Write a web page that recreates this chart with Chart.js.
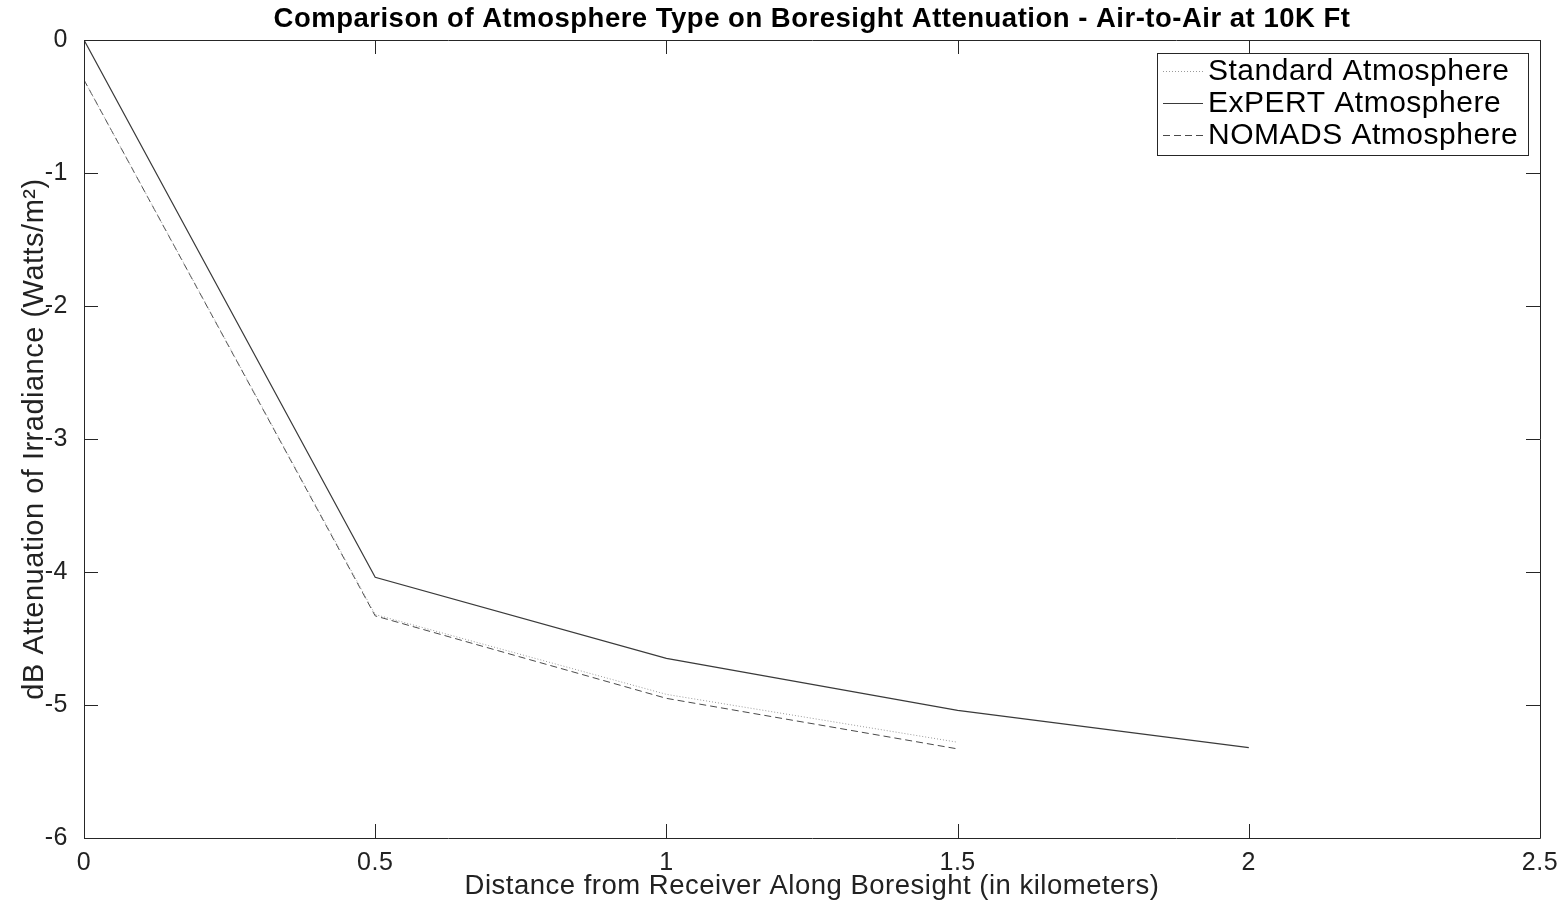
<!DOCTYPE html>
<html>
<head>
<meta charset="utf-8">
<script src="https://cdn.jsdelivr.net/npm/chart.js@4/dist/chart.umd.min.js"></script>
<style>
html,body{margin:0;padding:0;background:#fff;}
#wrap{width:1568px;height:906px;position:relative;}
</style>
</head>
<body>
<div id="wrap"><canvas id="c" width="1568" height="906"></canvas></div>
<script>
const distanceKm = [0, 0.5, 1, 1.5, 2];
const standardAtm = [-0.30, -4.32, -4.92, -5.28];
const expertAtm = [0.00, -4.04, -4.65, -5.04, -5.32];
const nomadsAtm = [-0.30, -4.33, -4.95, -5.33];
const xTicks = [0, 0.5, 1, 1.5, 2, 2.5];
const yTicks = [0, -1, -2, -3, -4, -5, -6];
const seriesNames = ['Standard Atmosphere', 'ExPERT Atmosphere', 'NOMADS Atmosphere'];

const FONT = '"Liberation Sans", Arial, Helvetica, sans-serif';

function pts(vals){ return vals.map((v,i)=>({x:distanceKm[i], y:v})); }

const spacing = {
  id:'spacing',
  beforeDraw(chart){ chart.ctx.letterSpacing = '0.5px'; }
};

const frame = {
  id:'frame',
  afterDraw(chart){
    const {ctx, chartArea:a, scales} = chart;
    ctx.save();
    ctx.strokeStyle = '#262626';
    ctx.lineWidth = 1;
    ctx.beginPath();
    ctx.rect(Math.round(a.left)+0.5, Math.round(a.top)+0.5, Math.round(a.right-a.left), Math.round(a.bottom-a.top));
    ctx.stroke();
    const L = 14;
    ctx.beginPath();
    xTicks.forEach(t=>{
      const x = Math.round(scales.x.getPixelForValue(t))+0.5;
      ctx.moveTo(x, a.bottom); ctx.lineTo(x, a.bottom-L);
      ctx.moveTo(x, a.top); ctx.lineTo(x, a.top+L);
    });
    yTicks.forEach(t=>{
      const y = Math.round(scales.y.getPixelForValue(t))+0.5;
      ctx.moveTo(a.left, y); ctx.lineTo(a.left+L, y);
      ctx.moveTo(a.right, y); ctx.lineTo(a.right-L, y);
    });
    ctx.stroke();
    // legend
    const bx = 1157.5, by = 53.5, bw = 371, bh = 102;
    ctx.fillStyle = '#fff';
    ctx.fillRect(bx, by, bw, bh);
    ctx.strokeStyle = '#262626';
    ctx.strokeRect(bx, by, bw, bh);
    ctx.font = '30px ' + FONT;
    ctx.letterSpacing = '0.5px';
    ctx.textBaseline = 'middle';
    ctx.textAlign = 'left';
    ctx.fillStyle = '#000';
    chart.data.datasets.forEach((ds,i)=>{
      const y = 70 + i*32;
      ctx.save();
      ctx.strokeStyle = ds.borderColor;
      ctx.lineWidth = ds.borderWidth;
      ctx.setLineDash(ds.borderDash || []);
      ctx.beginPath();
      ctx.moveTo(1163, y+1.5); ctx.lineTo(1203, y+1.5);
      ctx.stroke();
      ctx.restore();
      ctx.fillText(ds.label, 1208, y+2);
    });
    ctx.restore();
  }
};

new Chart(document.getElementById('c'), {
  type:'line',
  data:{
    datasets:[
      {label:seriesNames[0], data:pts(standardAtm), borderColor:'#9a9a9a', borderWidth:1, borderDash:[1,2], pointRadius:0, fill:false, tension:0},
      {label:seriesNames[1], data:pts(expertAtm), borderColor:'#3a3a3a', borderWidth:1.2, pointRadius:0, fill:false, tension:0},
      {label:seriesNames[2], data:pts(nomadsAtm), borderColor:'#4a4a4a', borderWidth:1, borderDash:[7,4], pointRadius:0, fill:false, tension:0}
    ]
  },
  options:{
    responsive:false,
    animation:false,
    layout:{padding:{left:0,right:28,top:0,bottom:0}},
    plugins:{
      legend:{display:false},
      tooltip:{enabled:false},
      title:{display:true, fullSize:false, text:'Comparison of Atmosphere Type on Boresight Attenuation - Air-to-Air at 10K Ft',
        color:'#000', font:{family:FONT, size:27.5, weight:'bold', lineHeight:1.2}, padding:{top:3,bottom:4}}
    },
    scales:{
      x:{type:'linear', min:0, max:2.5,
        afterFit(s){ s.height = 68; },
        afterBuildTicks(s){ s.ticks = xTicks.map(v=>({value:v})); },
        grid:{display:false}, border:{display:false},
        ticks:{color:'#222', font:{family:FONT, size:25}, padding:2, maxRotation:0, callback:(v)=>String(v)},
        title:{display:true, text:'Distance from Receiver Along Boresight (in kilometers)', color:'#222', font:{family:FONT, size:27.5}, padding:{top:0,bottom:3}}
      },
      y:{type:'linear', min:-6, max:0,
        afterFit(s){ s.width = 84; },
        afterBuildTicks(s){ s.ticks = yTicks.map(v=>({value:v})); },
        grid:{display:false}, border:{display:false},
        ticks:{color:'#222', font:{family:FONT, size:25}, padding:8, callback:(v)=>String(v)},
        title:{display:true, text:'dB Attenuation of Irradiance (Watts/m²)', color:'#222', font:{family:FONT, size:29}, padding:{top:18,bottom:0}}
      }
    }
  },
  plugins:[spacing, frame]
});
</script>
</body>
</html>
